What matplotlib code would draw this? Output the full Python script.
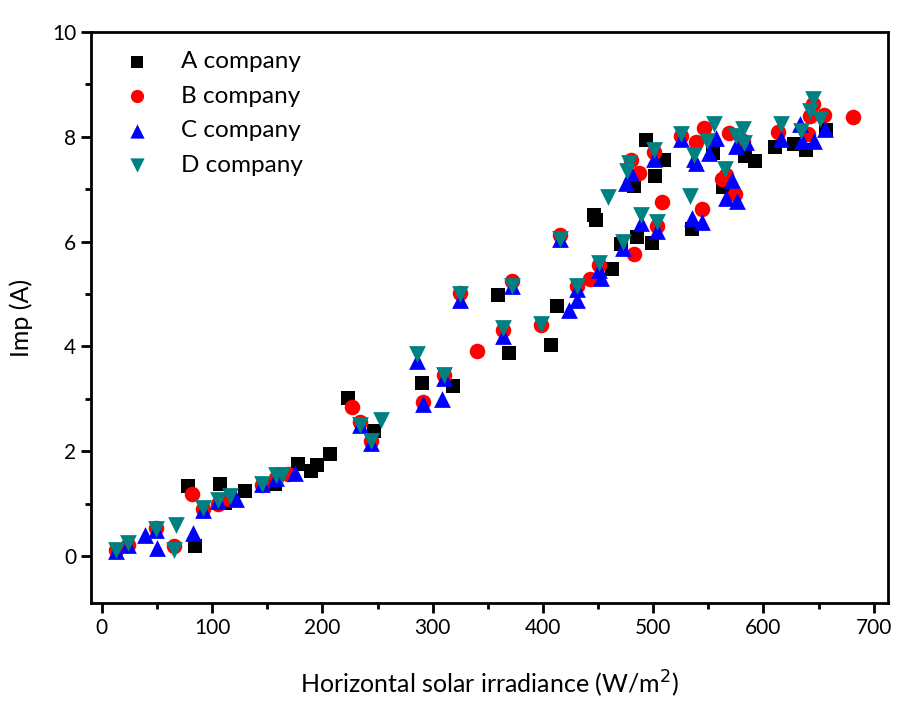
import matplotlib
matplotlib.use("Agg")
import matplotlib.pyplot as plt
from matplotlib.ticker import MultipleLocator

plt.rcParams['font.family'] = ['Lato', 'DejaVu Sans']

# A company (black squares)
a_x = [78, 84, 107, 112, 130, 157, 178, 190, 195, 207, 223, 247, 290, 318, 359, 369,
       407, 413, 446, 448, 463, 471, 483, 485, 493, 499, 502, 510, 535, 554, 563, 583,
       592, 610, 628, 639, 657]
a_y = [1.33, 0.2, 1.37, 1.02, 1.24, 1.38, 1.75, 1.63, 1.73, 1.94, 3.02, 2.38, 3.3, 3.24, 4.98, 3.87,
       4.02, 4.77, 6.5, 6.41, 5.48, 5.95, 7.06, 6.09, 7.94, 5.97, 7.25, 7.56, 6.24, 7.69, 7.04, 7.63,
       7.54, 7.8, 7.86, 7.75, 8.13]

# B company (red circles)
b_x = [13, 24, 49, 65, 82, 92, 105, 115, 145, 158, 169, 227, 234, 244, 291, 310, 325, 340,
       364, 372, 398, 415, 431, 443, 451, 480, 483, 487, 501, 503, 508, 525, 539, 544, 546,
       562, 566, 569, 574, 581, 613, 640, 642, 645, 655, 681]
b_y = [0.12, 0.22, 0.53, 0.2, 1.18, 0.9, 1.0, 1.1, 1.35, 1.5, 1.56, 2.85, 2.55, 2.2, 2.94, 3.45, 5.02, 3.92,
       4.32, 5.25, 4.4, 6.12, 5.15, 5.28, 5.55, 7.55, 5.76, 7.3, 7.7, 6.3, 6.76, 8.02, 7.9, 6.62, 8.17,
       7.2, 7.28, 8.07, 6.9, 7.92, 8.1, 8.05, 8.4, 8.62, 8.42, 8.38]

# C company (blue up triangles)
c_x = [13, 24, 39, 49, 50, 83, 92, 105, 122, 145, 158, 175, 234, 244, 286, 291, 308, 310,
       325, 364, 372, 415, 424, 431, 431, 451, 453, 473, 475, 480, 489, 501, 503, 525, 535,
       537, 539, 544, 551, 557, 566, 571, 575, 576, 584, 616, 633, 635, 646, 656]
c_y = [0.1, 0.22, 0.4, 0.5, 0.15, 0.45, 0.88, 1.05, 1.1, 1.37, 1.5, 1.58, 2.5, 2.15, 3.72, 2.9, 3.0, 3.4,
       4.88, 4.2, 5.15, 6.05, 4.7, 4.88, 5.1, 5.45, 5.3, 5.88, 7.12, 7.3, 6.35, 7.58, 6.2, 7.95, 6.45,
       7.58, 7.5, 6.38, 7.69, 7.98, 6.83, 7.17, 7.82, 6.78, 7.9, 7.96, 8.24, 7.92, 7.92, 8.15]

# D company (teal down triangles)
d_x = [13, 24, 49, 65, 67, 92, 105, 116, 145, 158, 163, 234, 244, 253, 286, 310, 325, 364,
       372, 398, 415, 431, 451, 459, 473, 476, 478, 489, 501, 503, 525, 533, 537, 549, 555,
       565, 575, 581, 582, 616, 634, 642, 645, 651]
d_y = [0.12, 0.25, 0.52, 0.12, 0.6, 0.92, 1.08, 1.15, 1.37, 1.55, 1.55, 2.5, 2.2, 2.6, 3.85, 3.45, 5.0, 4.35,
       5.15, 4.42, 6.05, 5.15, 5.6, 6.85, 6.0, 7.35, 7.5, 6.5, 7.75, 6.38, 8.05, 6.87, 7.65, 7.92, 8.25,
       7.38, 8.02, 8.15, 7.88, 8.24, 8.11, 8.49, 8.72, 8.34]

fig = plt.figure(figsize=(9.09, 7.09), dpi=100)
ax = fig.add_axes([0.100, 0.149, 0.877, 0.806])

ax.scatter(a_x, a_y, marker='s', s=100, color='black', linewidths=0, label='A company')
ax.scatter(b_x, b_y, marker='o', s=125, color='#ff0000', linewidths=0, label='B company')
ax.scatter(c_x, c_y, marker='^', s=145, color='#0000ff', linewidths=0, label='C company')
ax.scatter(d_x, d_y, marker='v', s=145, color='#008080', linewidths=0, label='D company')

ax.set_xlim(-10, 713)
ax.set_ylim(-0.9, 10)
ax.xaxis.set_major_locator(MultipleLocator(100))
ax.xaxis.set_minor_locator(MultipleLocator(50))
ax.yaxis.set_major_locator(MultipleLocator(2))
ax.yaxis.set_minor_locator(MultipleLocator(1))

for sp in ax.spines.values():
    sp.set_linewidth(2.0)
ax.tick_params(which='major', direction='out', length=7, width=2, labelsize=15)
ax.tick_params(which='minor', direction='out', length=4, width=2)

ax.set_xlabel('Horizontal solar irradiance (W/m$^2$)', fontsize=18, labelpad=22)
ax.set_ylabel('Imp (A)', fontsize=18, labelpad=14)

ax.legend(loc='upper left', frameon=False, fontsize=17.5, handletextpad=0.7,
          labelspacing=0.55, borderaxespad=0.3, borderpad=0.5, scatterpoints=1,
          markerscale=0.85, handlelength=2.2)

fig.savefig('out.png', dpi=100)
